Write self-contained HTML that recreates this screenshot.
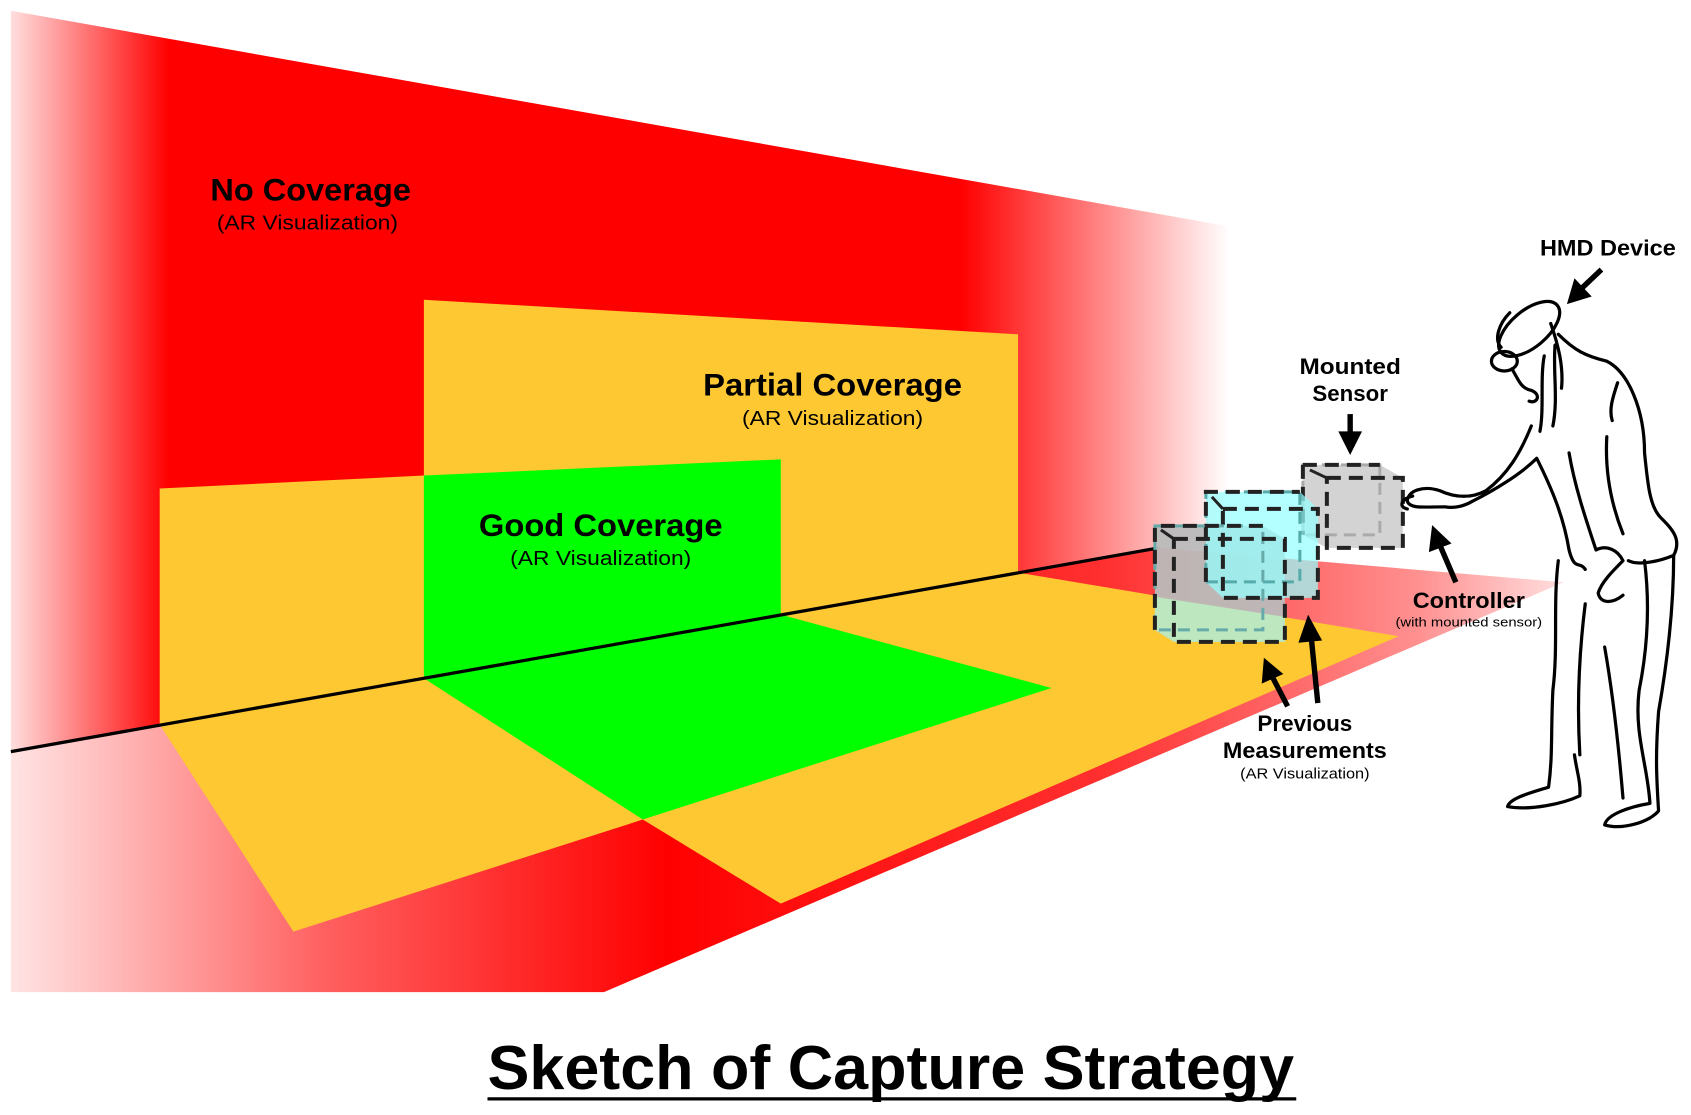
<!DOCTYPE html>
<html><head><meta charset="utf-8"><style>
html,body{margin:0;padding:0;background:#fff;width:1691px;height:1115px;overflow:hidden}
svg{display:block}
text{font-family:"Liberation Sans",sans-serif;fill:#000}
</style></head><body>
<svg width="1691" height="1115" viewBox="0 0 1568 1034" xmlns="http://www.w3.org/2000/svg">
<defs>
<linearGradient id="gw" x1="10" y1="0" x2="1140" y2="0" gradientUnits="userSpaceOnUse">
<stop offset="0" stop-color="#ffdede"/><stop offset="0.13" stop-color="#ff0000"/>
<stop offset="0.78" stop-color="#ff0000"/><stop offset="1" stop-color="#ffffff"/>
</linearGradient>
<linearGradient id="gf" x1="10" y1="0" x2="1460" y2="0" gradientUnits="userSpaceOnUse">
<stop offset="0" stop-color="#ffe4e4"/><stop offset="0.2" stop-color="#ff6060"/>
<stop offset="0.42" stop-color="#ff0000"/><stop offset="0.7" stop-color="#ff3030"/>
<stop offset="0.9" stop-color="#ff9090"/><stop offset="1" stop-color="#ffe4e4"/>
</linearGradient>
</defs>
<polygon points="10,10 1140,210 1140,503 10,697" fill="url(#gw)"/>
<polygon points="10,697 1075,508 1450,540 560,920 10,920" fill="url(#gf)"/>
<polygon points="148,453 393,441 393,278 944,310 944,531 148,672" fill="#fec832"/>
<polygon points="148,672 944,531 1297,590 724,838 596,760 272,864" fill="#fec832"/>
<polygon points="393,441 724,426 724,570 393,629" fill="#00ff00"/>
<polygon points="393,629 724,570 975,638 596,760" fill="#00ff00"/>
<line x1="10" y1="697" x2="1075" y2="508" stroke="#000" stroke-width="3"/>

<g transform="scale(0.9272)">
 <polygon points="1303,465 1380,465 1403,478 1403,548 1327,548 1303,535" fill="#d3d3d3"/>
 <rect x="1303" y="465" width="77" height="70" fill="none" stroke="#aaa" stroke-width="3" stroke-dasharray="12,7"/>
 <rect x="1327" y="478" width="76" height="70" fill="none" stroke="#222" stroke-width="4" stroke-dasharray="14,8"/>
 <path d="M1303,465 V535 M1303,465 H1380" stroke="#222" stroke-width="4" stroke-dasharray="14,8" fill="none"/>
 <line x1="1310" y1="470" x2="1327" y2="478" stroke="#222" stroke-width="3"/>
 <!-- green/gray cube fill -->
 <polygon points="1155,526 1263,526 1285,539 1285,642 1174,642 1155,630" fill="#bababa" fill-opacity="0.95"/>
 <polygon points="1155,597 1285,617 1285,642 1174,642 1155,630" fill="#bde8bf"/>
 <!-- cyan cube -->
 <polygon points="1206,492 1300,492 1318,509 1318,598 1223,598 1206,582" fill="rgba(150,255,255,0.72)"/>
 <rect x="1206" y="492" width="94" height="90" fill="none" stroke="#5aa" stroke-width="3" stroke-dasharray="12,7"/>
 <rect x="1223" y="509" width="95" height="89" fill="none" stroke="#222" stroke-width="4" stroke-dasharray="14,8"/>
 <path d="M1206,582 V492 H1300" stroke="#222" stroke-width="4" stroke-dasharray="14,8" fill="none"/>
 <line x1="1212" y1="497" x2="1223" y2="509" stroke="#222" stroke-width="3"/>
 <!-- green cube lines -->
 <rect x="1155" y="526" width="108" height="104" fill="none" stroke="#6aa" stroke-width="3" stroke-dasharray="12,7"/>
 <rect x="1174" y="539" width="111" height="103" fill="none" stroke="#222" stroke-width="4" stroke-dasharray="14,8"/>
 <path d="M1155,630 V526 H1263" stroke="#222" stroke-width="4" stroke-dasharray="14,8" fill="none"/>
 <line x1="1161" y1="530" x2="1174" y2="539" stroke="#222" stroke-width="3"/>
</g>

<g fill="none" stroke="#000" stroke-width="3" stroke-linecap="round" stroke-linejoin="round">
 <ellipse cx="1418" cy="305" rx="34" ry="17" transform="rotate(-40 1418 305)"/>
 <path d="M1400,290 C1390,300 1385,315 1392,322"/>
 <ellipse cx="1395" cy="335" rx="12" ry="9"/>
 <path d="M1402,342 C1408,352 1410,360 1420,362 C1430,366 1425,375 1418,372"/>
 <path d="M1438,300 C1445,320 1450,340 1448,360 M1442,320 C1440,345 1445,370 1440,395 M1432,330 C1428,350 1432,380 1428,400"/>
 <path d="M1445,310 C1460,325 1470,330 1490,335 C1510,345 1525,380 1525,420 C1528,450 1530,470 1540,480 C1550,490 1560,500 1552,515 C1540,520 1520,525 1510,520"/>
 <path d="M1500,355 C1495,370 1492,380 1495,390 M1490,405 C1488,440 1495,470 1505,495"/>
 <path d="M1420,395 C1410,420 1398,440 1378,455 C1365,462 1350,462 1335,455 C1320,450 1305,455 1305,465 C1308,472 1320,470 1340,470 C1350,472 1360,468 1365,465 C1385,455 1410,440 1425,425 C1440,455 1450,480 1455,510 C1460,530 1465,520 1470,528"/>
 <path d="M1310,460 C1300,462 1296,470 1305,472"/>
 <path d="M1455,420 C1460,450 1470,480 1480,510 C1490,505 1500,510 1505,520 C1495,530 1485,540 1482,550 C1484,560 1495,560 1505,552"/>
 <path d="M1445,520 C1440,560 1445,600 1440,640 C1438,680 1440,700 1436,730 C1420,735 1400,740 1398,748 C1420,752 1450,745 1465,738 C1466,725 1462,715 1460,700"/>
 <path d="M1470,560 C1465,600 1462,650 1465,700"/>
 <path d="M1525,520 C1530,560 1528,600 1520,640 C1515,680 1528,710 1530,745 C1512,748 1490,755 1488,765 C1505,770 1530,762 1538,752 C1536,720 1535,700 1538,660 C1545,620 1552,570 1552,515"/>
 <path d="M1488,600 C1495,640 1500,680 1505,740"/>
</g>

<g stroke="#000" stroke-width="5" fill="#000">
 <line x1="1485" y1="250" x2="1466" y2="268"/>
 <polygon points="1453,282 1460,258 1476,275" stroke="none"/>
 <line x1="1252" y1="384" x2="1252" y2="405"/>
 <polygon points="1252,422 1241,400 1263,400" stroke="none"/>
 <line x1="1350" y1="540" x2="1335" y2="505"/>
 <polygon points="1328,487 1325,512 1346,504" stroke="none"/>
 <line x1="1194" y1="655" x2="1180" y2="628"/>
 <polygon points="1172,610 1170,634 1190,625" stroke="none"/>
 <line x1="1222" y1="652" x2="1216" y2="592"/>
 <polygon points="1213,570 1204,596 1226,594" stroke="none"/>
</g>

<g text-anchor="middle" font-weight="bold">
 <text x="288" y="186" font-size="29" textLength="186" lengthAdjust="spacingAndGlyphs">No Coverage</text>
 <text x="285" y="213" font-size="19" font-weight="normal" textLength="168" lengthAdjust="spacingAndGlyphs">(AR Visualization)</text>
 <text x="772" y="367" font-size="29" textLength="240" lengthAdjust="spacingAndGlyphs">Partial Coverage</text>
 <text x="772" y="394" font-size="19" font-weight="normal" textLength="168" lengthAdjust="spacingAndGlyphs">(AR Visualization)</text>
 <text x="557" y="497" font-size="29" textLength="226" lengthAdjust="spacingAndGlyphs">Good Coverage</text>
 <text x="557" y="524" font-size="19" font-weight="normal" textLength="168" lengthAdjust="spacingAndGlyphs">(AR Visualization)</text>
 <text x="1491" y="237" font-size="21" textLength="126" lengthAdjust="spacingAndGlyphs">HMD Device</text>
 <text x="1252" y="347" font-size="21" textLength="94" lengthAdjust="spacingAndGlyphs">Mounted</text>
 <text x="1252" y="372" font-size="21" textLength="70" lengthAdjust="spacingAndGlyphs">Sensor</text>
 <text x="1362" y="564" font-size="21" textLength="104" lengthAdjust="spacingAndGlyphs">Controller</text>
 <text x="1362" y="581" font-size="12" font-weight="normal" textLength="136" lengthAdjust="spacingAndGlyphs">(with mounted sensor)</text>
 <text x="1210" y="678" font-size="21" textLength="88" lengthAdjust="spacingAndGlyphs">Previous</text>
 <text x="1210" y="703" font-size="21" textLength="152" lengthAdjust="spacingAndGlyphs">Measurements</text>
 <text x="1210" y="722" font-size="14" font-weight="normal" textLength="120" lengthAdjust="spacingAndGlyphs">(AR Visualization)</text>
 <text x="826" y="1010" font-size="58" textLength="748" lengthAdjust="spacingAndGlyphs">Sketch of Capture Strategy</text>
</g>
<line x1="452" y1="1019" x2="1202" y2="1019" stroke="#000" stroke-width="3"/>
</svg>
</body></html>
